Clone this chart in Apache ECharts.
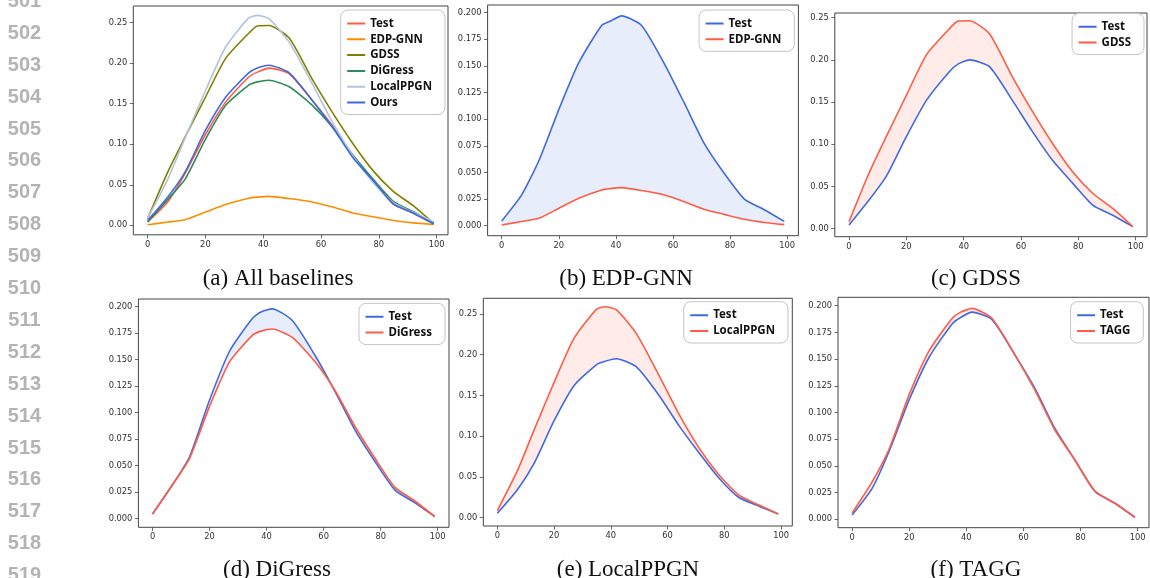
<!DOCTYPE html>
<html>
<head>
<meta charset="utf-8">
<script src="https://cdn.jsdelivr.net/npm/echarts@6/dist/echarts.min.js"></script>
<style>
html, body { margin: 0; padding: 0; background: #fff; }
#chart { width: 1150px; height: 578px; }
</style>
</head>
<body>
<div id="chart"></div>
<script>
// x positions shared by every curve
var xs = [0, 7, 13, 20, 27, 35, 38, 42, 49, 57, 64, 71, 78, 85, 92, 99];

// (a) and (f): test set and ours / TAGG
var testF   = [0.0040, 0.029, 0.064, 0.112, 0.152, 0.183, 0.189, 0.194, 0.187, 0.154, 0.1226, 0.085, 0.0555, 0.026, 0.015, 0.0019];
var tagg    = [0.0059, 0.035, 0.066, 0.117, 0.158, 0.188, 0.194, 0.1975, 0.188, 0.154, 0.121, 0.0836, 0.0555, 0.0265, 0.015, 0.0019];
// (b) EDP-GNN
var testB   = [0.0045, 0.029, 0.061, 0.109, 0.153, 0.188, 0.192, 0.197, 0.188, 0.152, 0.115, 0.077, 0.049, 0.025, 0.015, 0.004];
var edpgnn  = [0.0007, 0.004, 0.0069, 0.0163, 0.0257, 0.0335, 0.0348, 0.0357, 0.033, 0.0288, 0.0225, 0.0153, 0.0106, 0.006, 0.003, 0.001];
// (c) GDSS
var testC   = [0.0043, 0.034, 0.062, 0.109, 0.152, 0.186, 0.195, 0.200, 0.192, 0.152, 0.115, 0.081, 0.054, 0.028, 0.016, 0.0024];
var gdss    = [0.0083, 0.066, 0.109, 0.158, 0.206, 0.237, 0.246, 0.2465, 0.231, 0.180, 0.139, 0.101, 0.0675, 0.042, 0.024, 0.0024];
// (d) DiGress
var testD   = [0.0044, 0.032, 0.0585, 0.112, 0.158, 0.189, 0.195, 0.198, 0.187, 0.154, 0.120, 0.0836, 0.054, 0.027, 0.015, 0.002];
var digress = [0.0044, 0.032, 0.057, 0.106, 0.148, 0.173, 0.177, 0.179, 0.171, 0.148, 0.121, 0.087, 0.057, 0.0296, 0.0167, 0.002];
// (e) LocalPPGN
var testE   = [0.0054, 0.034, 0.067, 0.119, 0.162, 0.188, 0.192, 0.195, 0.185, 0.150, 0.113, 0.080, 0.049, 0.025, 0.0144, 0.0045];
var localppgn = [0.0087, 0.057, 0.108, 0.166, 0.220, 0.256, 0.259, 0.255, 0.226, 0.1745, 0.127, 0.086, 0.053, 0.028, 0.0157, 0.0045];

var xTicks = [0, 20, 40, 60, 80, 100];
var yTicksCoarse = [0, 0.05, 0.10, 0.15, 0.20, 0.25];
var yTicksFine = [0, 0.025, 0.05, 0.075, 0.10, 0.125, 0.15, 0.175, 0.20];

var captions = ['(a) All baselines', '(b) EDP-GNN', '(c) GDSS', '(d) DiGress', '(e) LocalPPGN', '(f) TAGG'];

var RED = '#ff5b45', BLUE = '#4169e1';
var RED_FILL = 'rgba(255,99,71,0.12)', BLUE_FILL = 'rgba(65,105,225,0.12)';
var SMOOTH = 0.2;

// legend swatch: a short bar in the middle of an 18x10 box
var SWATCH = 'path://M0,0H0.01V0.01H0Z M0,4H18V6H0Z M17.99,9.99H18V10H17.99Z';

// panel frames [left, top, right, bottom] in pixels, y range, legend spot
var panels = [
  {box: [133.3, 6, 448, 234.8],   ymin: -0.0117, ymax: 0.2706, fine: false, lt: 10,    lr: 705,   cap: [278, 279]},
  {box: [487.6, 5, 798.4, 235.7], ymin: -0.0094, ymax: 0.2072, fine: true,  lt: 10,    lr: 355.7, cap: [626, 279]},
  {box: [834.8, 13, 1147, 236.7], ymin: -0.0095, ymax: 0.2556, fine: false, lt: 13.3,  lr: 6,     cap: [976, 279]},
  {box: [138.4, 299, 449, 527.3], ymin: -0.0081, ymax: 0.2073, fine: true,  lt: 303.3, lr: 705,   cap: [277, 570]},
  {box: [483.3, 298.3, 792.3, 526], ymin: -0.0103, ymax: 0.2693, fine: false, lt: 301.7, lr: 362, cap: [628, 570]},
  {box: [838, 297.3, 1149, 527.7], ymin: -0.0079, ymax: 0.2079, fine: true,  lt: 301.7, lr: 6.7,   cap: [976, 570]}
];

function pts(ys) {
  return xs.map(function (x, i) { return [x, ys[i]]; });
}

var grids = [], xAxes = [], yAxes = [], legends = [], series = [];

panels.forEach(function (p, i) {
  grids.push({
    left: p.box[0], top: p.box[1],
    width: p.box[2] - p.box[0], height: p.box[3] - p.box[1],
    show: true, borderColor: '#444', borderWidth: 1, backgroundColor: 'transparent',
    containLabel: false, outerBoundsMode: 'none'
  });
  xAxes.push({
    gridIndex: i, type: 'value', min: -4.95, max: 103.95,
    axisLine: {show: false, onZero: false},
    splitLine: {show: false},
    axisTick: {show: true, length: 3.5, customValues: xTicks, lineStyle: {color: '#444', width: 0.8}},
    axisLabel: {customValues: xTicks, margin: 6, color: '#333', fontSize: 8.3, fontFamily: 'DejaVu Sans'}
  });
  var yt = p.fine ? yTicksFine : yTicksCoarse;
  yAxes.push({
    gridIndex: i, type: 'value', min: p.ymin, max: p.ymax,
    axisLine: {show: false, onZero: false},
    splitLine: {show: false},
    axisTick: {show: true, length: 3.5, customValues: yt, lineStyle: {color: '#444', width: 0.8}},
    axisLabel: {
      customValues: yt, margin: 6, color: '#333', fontSize: 8.3, fontFamily: 'DejaVu Sans',
      formatter: (function (fine) { return function (v) { return fine ? v.toFixed(3) : v.toFixed(2); }; })(p.fine)
    }
  });
});

function line(name, gi, ys, color) {
  return {
    name: name, type: 'line', xAxisIndex: gi, yAxisIndex: gi,
    data: pts(ys), symbol: 'none', smooth: SMOOTH, z: 3,
    lineStyle: {color: color, width: 1.6}, itemStyle: {color: color}
  };
}

// shaded region between two curves, drawn as one polygon through the axes
function band(gi, upper, lower, fill) {
  return {
    type: 'custom', xAxisIndex: gi, yAxisIndex: gi, z: 1, silent: true, clip: true,
    data: [[xs[0], upper[0]]],
    renderItem: function (params, api) {
      var poly = [];
      for (var i = 0; i < xs.length; i++) poly.push(api.coord([xs[i], upper[i]]));
      for (var k = xs.length - 1; k >= 0; k--) poly.push(api.coord([xs[k], lower[k]]));
      return {type: 'polygon', shape: {points: poly}, style: {fill: fill, stroke: null}};
    }
  };
}

// (a) all baselines
series.push(line('a:Test', 0, testF, RED));
series.push(line('a:EDP-GNN', 0, edpgnn, '#ff8c00'));
series.push(line('a:GDSS', 0, gdss, '#808000'));
series.push(line('a:DiGress', 0, digress, '#2e8b57'));
series.push(line('a:LocalPPGN', 0, localppgn, '#b0c4de'));
series.push(line('a:Ours', 0, tagg, BLUE));

// (b)-(f) test vs one model, with shaded gap
var pairs = [
  {k: 'b', name: 'EDP-GNN', test: testB, model: edpgnn, fill: BLUE_FILL},
  {k: 'c', name: 'GDSS', test: testC, model: gdss, fill: RED_FILL},
  {k: 'd', name: 'DiGress', test: testD, model: digress, fill: BLUE_FILL},
  {k: 'e', name: 'LocalPPGN', test: testE, model: localppgn, fill: RED_FILL},
  {k: 'f', name: 'TAGG', test: testF, model: tagg, fill: RED_FILL}
];

pairs.forEach(function (q, j) {
  var gi = j + 1;
  series.push(band(gi, q.test, q.model, q.fill));
  series.push(line(q.k + ':Test', gi, q.test, BLUE));
  series.push(line(q.k + ':' + q.name, gi, q.model, RED));
});

// legends, one per panel
var legendNames = [
  ['a:Test', 'a:EDP-GNN', 'a:GDSS', 'a:DiGress', 'a:LocalPPGN', 'a:Ours']
];
pairs.forEach(function (q) { legendNames.push([q.k + ':Test', q.k + ':' + q.name]); });

panels.forEach(function (p, i) {
  legends.push({
    data: legendNames[i], orient: 'vertical', top: p.lt, right: p.lr,
    icon: SWATCH, itemWidth: 18, itemHeight: 10, itemGap: 3.8,
    padding: [7.5, 13, 6, 6.5],
    borderColor: '#c4c4c4', borderWidth: 1, borderRadius: 7,
    backgroundColor: 'rgba(255,255,255,0.85)',
    selectedMode: false,
    textStyle: {fontSize: 11.5, fontWeight: 'bold', color: '#111', fontFamily: 'Noto Sans', lineHeight: 10},
    formatter: function (n) { return n.slice(2); }
  });
});

// captions and the gray line numbers of the page
var graphics = [];
panels.forEach(function (p, i) {
  graphics.push({
    type: 'text', x: p.cap[0], y: p.cap[1],
    style: {text: captions[i], fill: '#111', font: '23px "Liberation Serif"', textAlign: 'center', textVerticalAlign: 'middle'}
  });
});
for (var n = 501; n <= 519; n++) {
  graphics.push({
    type: 'text', x: 24.5, y: 1.4 + (n - 501) * 31.9,
    style: {text: String(n), fill: '#b3b3b3', font: 'bold 20px "Liberation Sans"', textAlign: 'center', textVerticalAlign: 'middle'}
  });
}

var chart = echarts.init(document.getElementById('chart'));
chart.setOption({
  animation: false,
  backgroundColor: '#fff',
  grid: grids,
  xAxis: xAxes,
  yAxis: yAxes,
  legend: legends,
  series: series,
  graphic: graphics
});
</script>
</body>
</html>
